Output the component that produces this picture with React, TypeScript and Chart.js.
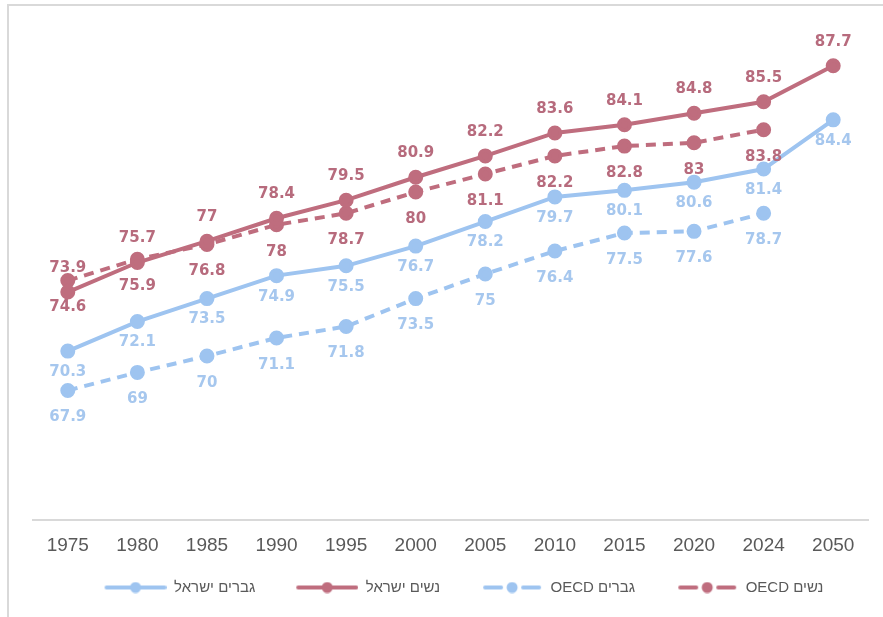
import React, { useEffect, useRef } from "react";
import { Chart, registerables } from "chart.js";

Chart.register(...registerables);

const years = ["1975", "1980", "1985", "1990", "1995", "2000", "2005", "2010", "2015", "2020", "2024", "2050"];
const menIsrael = [70.3, 72.1, 73.5, 74.9, 75.5, 76.7, 78.2, 79.7, 80.1, 80.6, 81.4, 84.4];
const womenIsrael = [73.9, 75.7, 77, 78.4, 79.5, 80.9, 82.2, 83.6, 84.1, 84.8, 85.5, 87.7];
const menOECD = [67.9, 69, 70, 71.1, 71.8, 73.5, 75, 76.4, 77.5, 77.6, 78.7, null];
const womenOECD = [74.6, 75.9, 76.8, 78, 78.7, 80, 81.1, 82.2, 82.8, 83, 83.8, null];
const seriesNames = ["גברים ישראל", "נשים ישראל", "גברים OECD", "נשים OECD"];

const RED = "#bf6d7e";
const BLUE = "#9ec4f0";
const RED_LABEL = "#b76b7d";
const BLUE_LABEL = "#a6c7ee";
const ICON_GAP = 27;

function makeLegendIcon(color: string, dashed: boolean) {
  const c = document.createElement("canvas");
  c.width = 62 + ICON_GAP;
  c.height = 12;
  const ctx = c.getContext("2d")!;
  ctx.translate(ICON_GAP, 0);
  ctx.strokeStyle = color;
  ctx.fillStyle = color;
  ctx.lineWidth = 4;
  ctx.lineCap = "round";
  if (dashed) {
    ctx.beginPath();
    ctx.moveTo(4, 6); ctx.lineTo(20, 6);
    ctx.moveTo(42, 6); ctx.lineTo(58, 6);
    ctx.stroke();
  } else {
    ctx.beginPath();
    ctx.moveTo(2, 6); ctx.lineTo(60, 6);
    ctx.stroke();
  }
  ctx.beginPath();
  ctx.arc(31, 6, 5.5, 0, Math.PI * 2);
  ctx.fill();
  return c;
}

const labelPlugin = {
  id: "valueLabels",
  afterDatasetsDraw(chart: any) {
    const ctx = chart.ctx;
    ctx.save();
    ctx.font = "bold 15px 'DejaVu Sans'";
    ctx.textAlign = "center";
    ctx.textBaseline = "middle";
    chart.data.datasets.forEach((ds: any, di: number) => {
      const meta = chart.getDatasetMeta(di);
      const offset = ds.labelOffset as number;
      ctx.fillStyle = ds.labelColor;
      meta.data.forEach((pt: any, i: number) => {
        const v = ds.data[i];
        if (v === null || v === undefined) return;
        ctx.fillText(String(v), pt.x, pt.y + offset);
      });
    });
    ctx.restore();
  },
};

export default function App() {
  const ref = useRef<HTMLCanvasElement>(null);
  useEffect(() => {
    document.body.style.margin = "0";
    const icons = [
      makeLegendIcon(BLUE, false),
      makeLegendIcon(RED, false),
      makeLegendIcon(BLUE, true),
      makeLegendIcon(RED, true),
    ];
    const common = {
      borderWidth: 4,
      pointRadius: 5.5,
      pointHoverRadius: 5.5,
      tension: 0,
      spanGaps: false,
    };
    const chart = new Chart(ref.current!, {
      type: "line",
      data: {
        labels: years,
        datasets: [
          { ...common, label: seriesNames[0], data: menIsrael, borderColor: BLUE, backgroundColor: BLUE, pointBackgroundColor: BLUE, pointBorderColor: BLUE, labelOffset: 21, labelColor: BLUE_LABEL } as any,
          { ...common, label: seriesNames[1], data: womenIsrael, borderColor: RED, backgroundColor: RED, pointBackgroundColor: RED, pointBorderColor: RED, labelOffset: -24, labelColor: RED_LABEL } as any,
          { ...common, label: seriesNames[2], data: menOECD, borderColor: BLUE, backgroundColor: BLUE, pointBackgroundColor: BLUE, pointBorderColor: BLUE, borderDash: [10, 7], labelOffset: 27, labelColor: BLUE_LABEL } as any,
          { ...common, label: seriesNames[3], data: womenOECD, borderColor: RED, backgroundColor: RED, pointBackgroundColor: RED, pointBorderColor: RED, borderDash: [10, 7], labelOffset: 27, labelColor: RED_LABEL } as any,
        ],
      },
      options: {
        animation: false,
        responsive: false,
        maintainAspectRatio: false,
        layout: { padding: { left: 33, right: 15, top: 28, bottom: 12 } },
        scales: {
          x: {
            offset: true,
            grid: { display: false, drawTicks: false },
            border: { display: true, color: "#d9d9d9", width: 2 },
            ticks: { color: "#595959", font: { family: "'Liberation Sans', Arial", size: 19 }, padding: 14, maxRotation: 0, autoSkip: false },
            afterFit: (s: any) => { s.height = 46; },
          },
          y: {
            display: false,
            min: 60,
            max: 90,
          },
        },
        plugins: {
          legend: {
            position: "bottom",
            textDirection: "rtl",
            labels: {
              usePointStyle: true,
              pointStyleWidth: 62 + ICON_GAP,
              padding: 14,
              color: "#595959",
              font: { family: "'Liberation Sans', 'DejaVu Sans', Arial", size: 15 },
              generateLabels: (ch: any) =>
                ch.data.datasets.map((ds: any, i: number) => ({
                  text: ds.label,
                  pointStyle: icons[i],
                  fillStyle: ds.borderColor,
                  strokeStyle: ds.borderColor,
                  fontColor: "#595959",
                  lineWidth: 0,
                  hidden: false,
                  datasetIndex: i,
                })),
            },
          },
          tooltip: { enabled: false },
        },
      },
      plugins: [labelPlugin],
    });
    return () => chart.destroy();
  }, []);
  return (
    <div style={{ position: "relative", width: 883, height: 617, background: "#fff", overflow: "hidden" }}>
      <div style={{ position: "absolute", left: 7, top: 4, right: 0, bottom: 0, borderTop: "2px solid #d9d9d9", borderLeft: "2px solid #d9d9d9" }} />
      <canvas ref={ref} width={883} height={617} style={{ position: "absolute", left: 0, top: 0 }} />
    </div>
  );
}
